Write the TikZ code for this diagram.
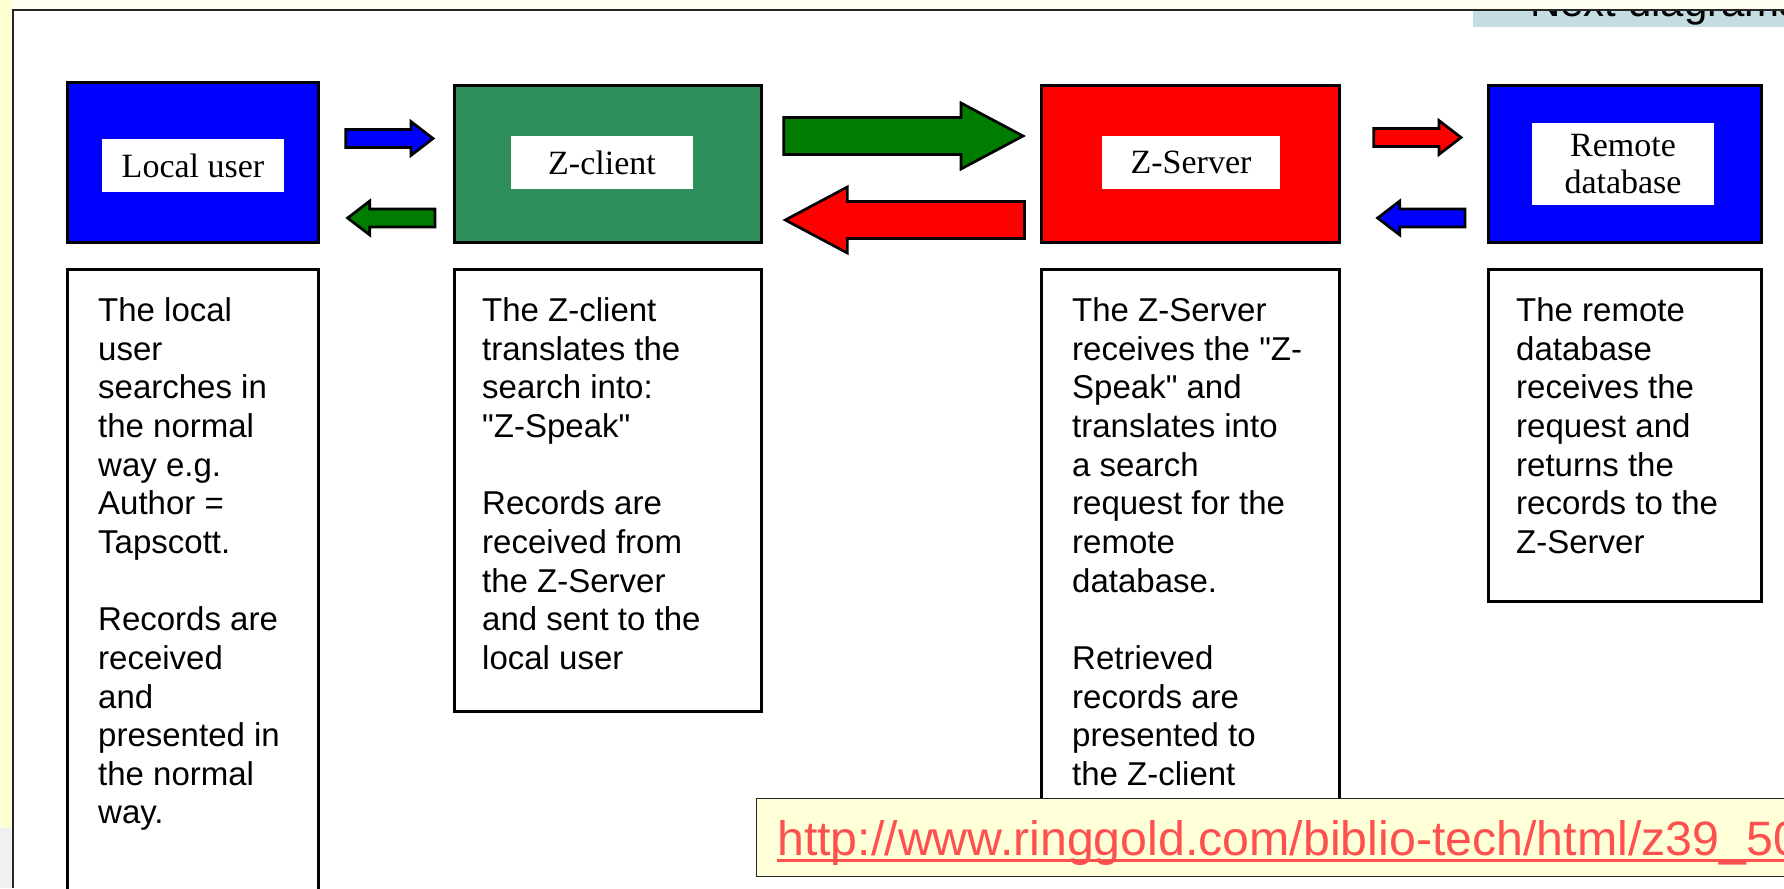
\documentclass[tikz,border=0pt]{standalone}
\usepackage{fontspec}
\setmainfont{Liberation Sans}
\newfontfamily\tagfont{Liberation Serif}
\usetikzlibrary{positioning,calc,shapes.arrows}

\definecolor{clientgreen}{RGB}{46,142,92}
\definecolor{arrowgreen}{RGB}{0,124,0}
\definecolor{urlred}{RGB}{255,80,80}
\definecolor{urlyellow}{RGB}{255,255,216}
\definecolor{sideyellow}{RGB}{255,255,212}
\definecolor{topcream}{RGB}{255,255,240}
\definecolor{navblue}{RGB}{196,221,227}

\begin{document}
\begin{tikzpicture}[
    x=1pt, y=-1pt,
    block/.style={draw=black, line width=2.7pt, inner sep=0pt},
    tag/.style={fill=white, inner sep=0pt, align=center,
        font=\tagfont\fontsize{34}{37}\selectfont},
    infobox/.style={draw=black, line width=2.7pt, fill=white, inner sep=0pt},
    bodytext/.style={anchor=north west, inner sep=0pt, align=left,
        font=\fontsize{33}{38.65}\selectfont},
    smallarrow/.style={single arrow, draw=black, line width=2.7pt,
        inner xsep=0pt, inner ysep=7.65pt, minimum height=87.3pt,
        single arrow head extend=8pt, single arrow tip angle=75},
    bigarrow/.style={single arrow, draw=black, line width=2.7pt,
        inner xsep=0pt, inner ysep=17.15pt, minimum height=239.3pt,
        single arrow head extend=14.5pt, single arrow tip angle=56}
    ]
    \useasboundingbox (0,0) rectangle (1784,888);
    \fill[white] (0,0) rectangle (1784,888);
    \fill[sideyellow] (0,0) rectangle (12,828);
    \fill[black!6] (0,828) rectangle (12,888);
    \fill[topcream] (12,0) rectangle (1784,9);
    \begin{scope}
        \clip (1473,11) rectangle (1784,27);
        \fill[navblue] (1473,11) rectangle (1784,27);
        \node[anchor=base west, inner sep=0pt, font=\fontsize{42}{44}\selectfont]
            (nav) at (1530,17) {Next diagrams};
    \end{scope}
    \draw[line width=2.5pt, black!85] (13,888) -- (13,10) -- (1784,10);

    \node[block, fill=blue, minimum width=251.3pt, minimum height=160.3pt] (lu) at (193,162.5) {};
    \node[block, fill=clientgreen, minimum width=307.3pt, minimum height=157.3pt] (zc) at (608,164) {};
    \node[block, fill=red, minimum width=298.3pt, minimum height=157.3pt] (zs) at (1190.5,164) {};
    \node[block, fill=blue, minimum width=273.3pt, minimum height=157.3pt] (rd) at (1625,164) {};

    \node[tag, minimum width=182pt, minimum height=53pt] (lutag) at ($(lu)+(0,3)$) {Local user};
    \node[tag, minimum width=182pt, minimum height=53pt] (zctag) at ($(zc)+(-6,-1.5)$) {Z-client};
    \node[tag, minimum width=178pt, minimum height=53pt] (zstag) at ($(zs)+(0.5,-1.5)$) {Z-Server};
    \node[tag, minimum width=182pt, minimum height=82pt] (rdtag) at ($(rd)+(-2,0)$) {Remote\\database};

    \node[smallarrow, fill=blue, anchor=tail] (luzc) at ($(lu.east)+(24.4,-24)$) {};
    \node[smallarrow, fill=arrowgreen, shape border rotate=180, anchor=tip] (zclu) at ($(lu.east)+(25.4,55.5)$) {};
    \node[bigarrow, fill=arrowgreen, anchor=tail] (zczs) at ($(zc.east)+(19.4,-28)$) {};
    \node[bigarrow, fill=red, shape border rotate=180, anchor=tip] (zszc) at ($(zc.east)+(19.4,56)$) {};
    \node[smallarrow, fill=red, anchor=tail] (zsrd) at ($(zs.east)+(31.4,-26.5)$) {};
    \node[smallarrow, fill=blue, shape border rotate=180, anchor=tip] (rdzs) at ($(zs.east)+(34.4,54)$) {};

    \node[infobox, minimum width=251.3pt, minimum height=650pt, below=24pt of lu] (lubox) {};
    \node[infobox, minimum width=307.3pt, minimum height=442.3pt, below=24pt of zc] (zcbox) {};
    \node[infobox, minimum width=298.3pt, minimum height=540pt, below=24pt of zs] (zsbox) {};
    \node[infobox, minimum width=273.3pt, minimum height=332.3pt, below=24pt of rd] (rdbox) {};

    \node[bodytext] (lutext) at ($(lubox.north west)+(32,29.4)$)
        {The local\\user\\searches in\\the normal\\way e.g.\\Author =\\Tapscott.\\[38.65pt]Records are\\received\\and\\presented in\\the normal\\way.};
    \node[bodytext] (zctext) at ($(zcbox.north west)+(29,29.4)$)
        {The Z-client\\translates the\\search into:\\\textquotedbl Z-Speak\textquotedbl\\[38.65pt]Records are\\received from\\the Z-Server\\and sent to the\\local user};
    \node[bodytext] (zstext) at ($(zsbox.north west)+(32,29.4)$)
        {The Z-Server\\receives the \textquotedbl Z-\\Speak\textquotedbl{} and\\translates into\\a search\\request for the\\remote\\database.\\[38.65pt]Retrieved\\records are\\presented to\\the Z-client};
    \node[bodytext] (rdtext) at ($(rdbox.north west)+(29,29.4)$)
        {The remote\\database\\receives the\\request and\\returns the\\records to the\\Z-Server};

    \node[draw=black!85, line width=1.3pt, fill=urlyellow, anchor=north west,
        minimum width=1100pt, minimum height=78pt] (urlbox) at (756,798) {};
    \node[anchor=base west, inner sep=0pt, text=urlred, font=\fontsize{48.3}{50}\selectfont]
        (url) at ($(urlbox.north west)+(21,57)$) {http://www.ringgold.com/biblio-tech/html/z39\_50};
    \draw[urlred, line width=3pt] ($(url.base west)+(0,5.5)$) -- ($(url.base east)+(0,5.5)$);
\end{tikzpicture}
\end{document}
